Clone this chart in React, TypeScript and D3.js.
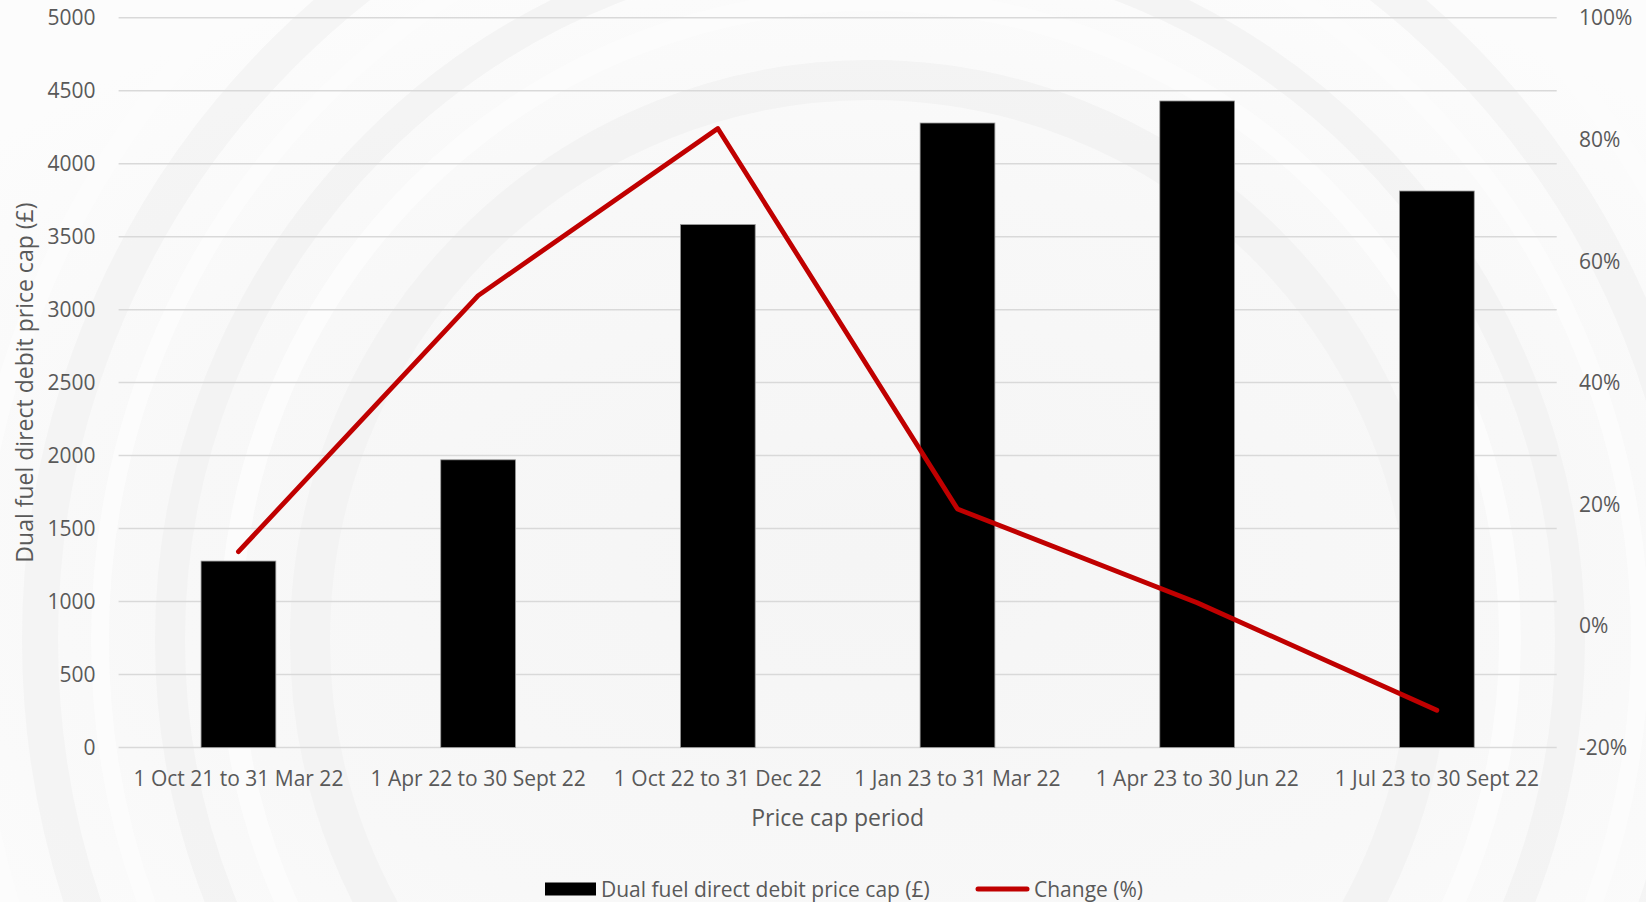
import React from "react";
import * as d3 from "d3";

const categories = [
  "1 Oct 21 to 31 Mar 22",
  "1 Apr 22 to 30 Sept 22",
  "1 Oct 22 to 31 Dec 22",
  "1 Jan 23 to 31 Mar 22",
  "1 Apr 23 to 30 Jun 22",
  "1 Jul 23 to 30 Sept 22",
];
const priceCap = [1277, 1971, 3583, 4279, 4430, 3813];
const changePct = [12.2, 54.3, 81.8, 19.2, 3.8, -13.9];
const leftTicks = [0, 500, 1000, 1500, 2000, 2500, 3000, 3500, 4000, 4500, 5000];
const rightTicks = [-20, 0, 20, 40, 60, 80, 100];

const W = 1646;
const H = 902;
const FONT = "'Open Sans', sans-serif";
const TEXT = "#595959";

export default function App() {
  const x = d3.scaleBand<string>().domain(categories).range([118.6, 1556.7]).padding(0);
  const yL = d3.scaleLinear().domain([0, 5000]).range([747.4, 17.8]);
  const yR = d3.scaleLinear().domain([-20, 100]).range([747.4, 17.8]);
  const barW = x.bandwidth() * 0.312;
  const cx = (c: string) => (x(c) as number) + x.bandwidth() / 2;

  const line = d3
    .line<number>()
    .x((_, i) => cx(categories[i]))
    .y((d) => yR(d));

  const rings = [
    { r: 560, w: 40, c: "#f3f3f3" },
    { r: 640, w: 22, c: "#fdfdfd" },
    { r: 700, w: 30, c: "#f3f3f3" },
    { r: 770, w: 18, c: "#fdfdfd" },
    { r: 830, w: 36, c: "#f4f4f4" },
    { r: 900, w: 20, c: "#fdfdfd" },
  ];

  return (
    <div style={{ position: "absolute", left: 0, top: 0, width: W, height: H, overflow: "hidden" }}>
      <svg width={W} height={H} style={{ display: "block" }}>
        <defs>
          <radialGradient id="bg" cx="52%" cy="62%" r="70%">
            <stop offset="0%" stopColor="#f5f5f5" />
            <stop offset="60%" stopColor="#f8f8f8" />
            <stop offset="100%" stopColor="#fcfcfc" />
          </radialGradient>
        </defs>
        <rect x={0} y={0} width={W} height={H} fill="url(#bg)" />
        <g opacity={0.85}>
          {rings.map((r, i) => (
            <circle key={i} cx={870} cy={640} r={r.r} fill="none" stroke={r.c} strokeWidth={r.w} />
          ))}
        </g>

        {/* gridlines */}
        {leftTicks.map((t) => (
          <line key={t} x1={118.6} x2={1556.7} y1={yL(t)} y2={yL(t)} stroke="#d9d9d9" strokeWidth={1.5} />
        ))}

        {/* bars */}
        {priceCap.map((v, i) => (
          <rect
            key={i}
            x={cx(categories[i]) - barW / 2}
            y={yL(v)}
            width={barW}
            height={yL(0) - yL(v)}
            fill="#000000"
            stroke="#9a9a9a"
            strokeWidth={0.8}
          />
        ))}

        {/* line */}
        <path
          d={line(changePct) as string}
          fill="none"
          stroke="#c00000"
          strokeWidth={4.8}
          strokeLinejoin="round"
          strokeLinecap="round"
        />

        {/* left ticks */}
        {leftTicks.map((t) => (
          <text key={t} x={95.5} y={yL(t) + 7.5} textAnchor="end" fontFamily={FONT} fontSize={21} fill={TEXT}>
            {t}
          </text>
        ))}

        {/* right ticks */}
        {rightTicks.map((t) => (
          <text key={t} x={1579} y={yR(t) + 7.5} textAnchor="start" fontFamily={FONT} fontSize={21} fill={TEXT}>
            {`${t}%`}
          </text>
        ))}

        {/* category labels */}
        {categories.map((c) => (
          <text key={c} x={cx(c)} y={786} textAnchor="middle" fontFamily={FONT} fontSize={21} fill={TEXT}>
            {c}
          </text>
        ))}

        {/* axis titles */}
        <text x={837.6} y={826} textAnchor="middle" fontFamily={FONT} fontSize={23} fill={TEXT}>
          Price cap period
        </text>
        <text
          transform={`translate(33, 382.6) rotate(-90)`}
          textAnchor="middle"
          fontFamily={FONT}
          fontSize={23}
          fill={TEXT}
        >
          Dual fuel direct debit price cap (£)
        </text>

        {/* legend */}
        <rect x={545} y={882.5} width={51} height={13} fill="#000" />
        <text x={601} y={896.5} fontFamily={FONT} fontSize={21} fill={TEXT}>
          Dual fuel direct debit price cap (£)
        </text>
        <line x1={978} x2={1027} y1={889} y2={889} stroke="#c00000" strokeWidth={5} strokeLinecap="round" />
        <text x={1034} y={896.5} fontFamily={FONT} fontSize={21} fill={TEXT}>
          Change (%)
        </text>
      </svg>
    </div>
  );
}
